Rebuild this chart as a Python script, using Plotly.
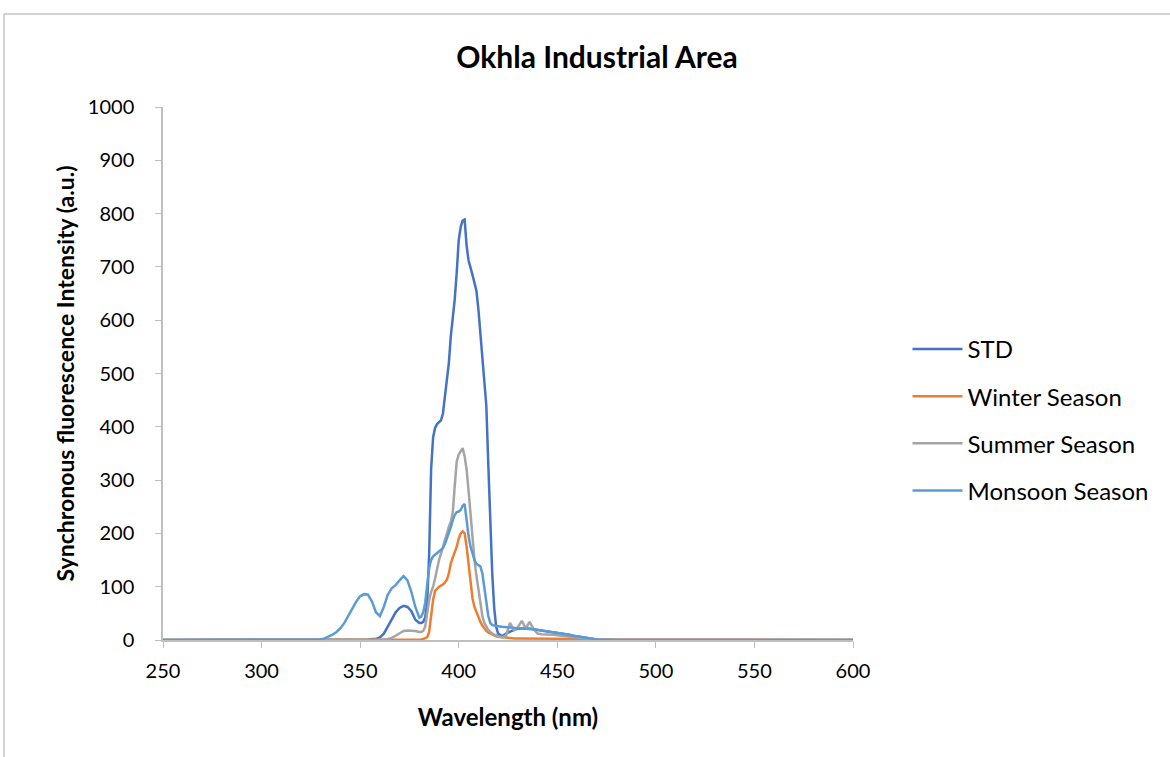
import plotly.graph_objects as go

wavelength = [250, 280, 300, 320, 330,
              332, 334, 336, 338, 340, 342, 344, 346, 348, 350, 352, 354, 356, 358, 360, 362, 364, 366, 368, 370, 372, 374, 376, 378,
              380, 381, 382, 383, 384, 385, 386, 387, 388, 389, 390, 391, 392, 393, 394, 395, 396, 397, 398, 399,
              400, 401, 402, 403, 404, 405, 406, 407, 408, 409, 410, 411, 412, 413, 414, 415, 416, 417, 418, 419, 420,
              422, 424, 426, 428, 430, 432, 434, 436, 438, 440, 442, 444, 446, 448, 450, 452, 454, 456, 458, 460, 462, 464, 466, 468, 470,
              480, 500, 550, 600]

std = [0, 0, 0, 0, 0,
       0, 0, 0, 0, 0, 0, 0, 0, 0, 0, 0, 1, 2, 2, 5, 12, 25, 38, 52, 60, 64, 62, 54, 38,
       32, 32, 34, 42, 70, 160, 320, 380, 398, 405, 408, 412, 425, 455, 480, 520, 570, 600, 640, 690,
       750, 775, 787, 789, 740, 712, 700, 685, 670, 655, 620, 575, 530, 490, 440, 330, 225, 125, 60, 25, 12,
       7, 12, 16, 19, 21, 22, 22, 21, 20, 19, 18, 17, 16, 15, 14, 12, 11, 10, 8, 7, 6, 4, 3, 2, 1,
       0, 0, 0, 0]

winter = [0, 0, 0, 0, 0,
          0, 0, 0, 0, 0, 0, 0, 0, 0, 0, 0, 0, 0, 0, 0, 0, 0, 0, 0, 0, 0, 0, 1, 1,
          1, 1, 2, 3, 5, 15, 45, 75, 92, 97, 100, 102, 104, 108, 113, 125, 144, 155, 165, 175,
          190, 200, 204, 200, 175, 140, 100, 78, 62, 52, 42, 34, 27, 21, 17, 14, 12, 10, 8, 7, 6,
          5, 4, 4, 3, 3, 3, 3, 3, 3, 3, 3, 3, 3, 3, 3, 3, 3, 3, 3, 2, 2, 1, 1, 0, 0,
          0, 0, 0, 0]

summer = [0, 0, 0, 0, 0,
          0, 0, 0, 0, 0, 0, 0, 0, 0, 0, 0, 0, 0, 0, 0, 1, 2, 4, 8, 13, 17, 18, 18, 17,
          15, 15, 17, 25, 50, 75, 90, 100, 115, 135, 150, 162, 175, 190, 202, 212, 222, 240, 290, 335,
          348, 355, 360, 345, 320, 280, 235, 190, 150, 120, 95, 70, 45, 32, 24, 19, 15, 12, 10, 9, 7,
          5, 8, 32, 18, 24, 36, 22, 34, 20, 12, 11, 11, 10, 10, 9, 8, 7, 6, 5, 4, 3, 2, 1, 1, 0,
          0, 0, 0, 0]

monsoon = [0, 0, 0, 0, 1,
           3, 6, 10, 15, 22, 32, 45, 60, 72, 82, 86, 85, 72, 52, 45, 62, 85, 97, 103, 112, 120, 112, 90, 62,
           42, 44, 52, 70, 100, 135, 150, 157, 160, 163, 166, 168, 172, 180, 190, 200, 212, 225, 235, 240,
           241, 244, 252, 255, 219, 195, 175, 160, 150, 143, 140, 138, 125, 100, 75, 45, 32, 28, 27, 26, 26,
           25, 24, 24, 23, 22, 21, 21, 21, 20, 19, 18, 17, 16, 15, 14, 12, 11, 10, 8, 7, 6, 4, 3, 2, 1,
           0, 0, 0, 0]

series_names = ["STD", "Winter Season", "Summer Season", "Monsoon Season"]
series_values = [std, winter, summer, monsoon]
series_colors = ["#4472C4", "#ED7D31", "#A5A5A5", "#5B9BD5"]

FONT = "Lato"
W, H = 1170, 757
L, T, PW, PH = 163, 107, 690, 533

fig = go.Figure()
for i, (name, vals, col) in enumerate(zip(series_names, series_values, series_colors)):
    fig.add_trace(go.Scatter(x=wavelength, y=vals, mode="lines", name=name,
                             line=dict(color=col, width=2.5), legendgroup=f"g{i}"))

fig.update_layout(
    width=W, height=H, autosize=False,
    margin=dict(l=L, r=W - L - PW, t=T, b=H - T - PH),
    paper_bgcolor="white", plot_bgcolor="white",
    font=dict(family=FONT, size=20, color="black"),
    title=dict(text="<b>Okhla Industrial Area</b>", font=dict(family=FONT, size=30, color="black"),
               x=0.629, xanchor="center", y=1 - 57 / H, yanchor="middle", xref="paper"),
    legend=dict(x=1.079, xanchor="left", y=0.413, yanchor="middle",
                font=dict(family=FONT, size=24, color="black"),
                tracegroupgap=13, itemwidth=50, bgcolor="rgba(0,0,0,0)"),
    showlegend=True,
)
fig.update_xaxes(range=[250, 600], dtick=50, tick0=250, showline=True, linecolor="#BFBFBF", linewidth=1.5,
                 ticks="outside", ticklen=6, tickcolor="#BFBFBF", showgrid=False, zeroline=False,
                 tickfont=dict(family=FONT, size=20), ticklabelstandoff=6,
                 title=dict(text="<b>Wavelength (nm)</b>", font=dict(family=FONT, size=24), standoff=28))
fig.update_yaxes(range=[0, 1000], dtick=100, showline=True, linecolor="#BFBFBF", linewidth=1.5,
                 ticks="outside", ticklen=6, tickcolor="#BFBFBF", showgrid=False, zeroline=False,
                 tickfont=dict(family=FONT, size=20), ticklabelstandoff=17,
                 title=dict(text="<b>Synchronous fluorescence Intensity (a.u.)</b>", font=dict(family=FONT, size=23), standoff=7))

# outer chart-area border
fig.add_shape(type="rect", xref="paper", yref="paper",
              x0=(4 - L) / PW, x1=(W + 10 - L) / PW, y0=-(H - T - PH + 10) / PH, y1=(T + PH - 14) / PH,
              line=dict(color="#A6A6A6", width=1), fillcolor="rgba(0,0,0,0)", layer="below")

fig.write_html("out.html", config={"displayModeBar": False},
               post_script="document.body.style.margin='0px';")
